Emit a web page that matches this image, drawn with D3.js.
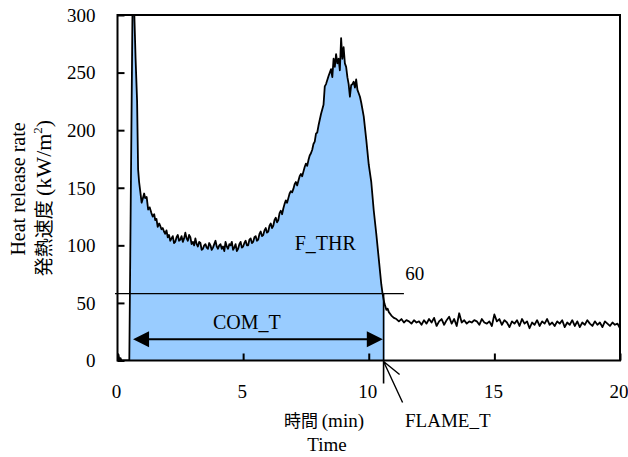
<!DOCTYPE html>
<html><head><meta charset="utf-8">
<script src="https://cdn.jsdelivr.net/npm/d3@7/dist/d3.min.js"></script>
<style>body{margin:0;background:#fff}</style>
</head><body><svg id="c" width="628" height="457"></svg>
<script>
// time (min)
const times = [
  0, 0.04, 0.08, 0.12, 0.16, 0.2, 0.3, 0.4, 0.47, 0.6,
  0.66, 0.72, 0.78, 0.82, 0.86, 0.9, 0.96, 1.0, 1.06, 1.1,
  1.16, 1.22, 1.28, 1.35, 1.4, 1.46, 1.5, 1.55, 1.6, 1.66,
  1.7, 1.75, 1.8, 1.85, 1.9, 1.95, 2.0, 2.05, 2.1, 2.15,
  2.2, 2.25, 2.3, 2.35, 2.4, 2.45, 2.5, 2.55, 2.6, 2.65,
  2.7, 2.75, 2.8, 2.85, 2.9, 2.95, 3.0, 3.05, 3.1, 3.15,
  3.2, 3.25, 3.3, 3.35, 3.4, 3.45, 3.5, 3.55, 3.6, 3.65,
  3.7, 3.75, 3.8, 3.85, 3.9, 3.95, 4.0, 4.05, 4.1, 4.15,
  4.2, 4.25, 4.3, 4.35, 4.4, 4.45, 4.5, 4.55, 4.6, 4.65,
  4.7, 4.75, 4.8, 4.85, 4.9, 4.95, 5.0, 5.05, 5.1, 5.15,
  5.2, 5.25, 5.3, 5.35, 5.4, 5.45, 5.5, 5.55, 5.6, 5.65,
  5.7, 5.75, 5.8, 5.85, 5.9, 5.95, 6.0, 6.05, 6.1, 6.15,
  6.2, 6.25, 6.3, 6.35, 6.4, 6.45, 6.5, 6.55, 6.6, 6.65,
  6.7, 6.75, 6.8, 6.85, 6.9, 6.95, 7.0, 7.05, 7.1, 7.15,
  7.2, 7.25, 7.3, 7.35, 7.4, 7.45, 7.5, 7.55, 7.6, 7.65,
  7.7, 7.75, 7.8, 7.85, 7.9, 7.95, 8.0, 8.1, 8.2, 8.25,
  8.3, 8.4, 8.45, 8.5, 8.55, 8.6, 8.65, 8.7, 8.75, 8.8,
  8.85, 8.9, 8.95, 9.0, 9.05, 9.1, 9.15, 9.2, 9.25, 9.3,
  9.35, 9.4, 9.45, 9.5, 9.55, 9.6, 9.65, 9.7, 9.8, 9.9,
  10.0, 10.1, 10.2, 10.3, 10.4, 10.5, 10.55, 10.6, 10.63, 10.66,
  10.7, 10.75, 10.8, 10.9, 11.0, 11.1, 11.2, 11.3, 11.4, 11.5,
  11.6, 11.7, 11.8, 11.9, 12.0, 12.1, 12.2, 12.3, 12.4, 12.5,
  12.6, 12.7, 12.8, 12.9, 13.0, 13.1, 13.2, 13.3, 13.4, 13.5,
  13.6, 13.7, 13.8, 13.9, 14.0, 14.1, 14.2, 14.3, 14.4, 14.5,
  14.6, 14.7, 14.8, 14.9, 15.0, 15.1, 15.2, 15.3, 15.4, 15.5,
  15.6, 15.7, 15.8, 15.9, 16.0, 16.1, 16.2, 16.3, 16.4, 16.5,
  16.6, 16.7, 16.8, 16.9, 17.0, 17.1, 17.2, 17.3, 17.4, 17.5,
  17.6, 17.7, 17.8, 17.9, 18.0, 18.1, 18.2, 18.3, 18.4, 18.5,
  18.6, 18.7, 18.8, 18.9, 19.0, 19.1, 19.2, 19.3, 19.4, 19.5,
  19.6, 19.7, 19.8, 19.9, 20.0
];
// heat release rate (kW/m2)
const hrr = [
  0, 5, 0, 2, 0, 0, 0, 0, 0, 312,
  308, 262, 225, 166, 155, 148, 137, 140, 145, 141,
  142, 131, 133, 128, 125, 127, 122, 123, 116, 119,
  117, 114, 115, 112, 110, 113, 107, 109, 104, 106,
  108, 102, 103, 107, 109, 104, 105, 108, 103, 106,
  111, 106, 104, 109, 107, 101, 103, 100, 106, 101,
  99, 103, 102, 96, 97, 100, 101, 98, 97, 102,
  100, 96, 98, 101, 104, 99, 97, 100, 101, 97,
  99, 95, 103, 99, 97, 101, 100, 103, 96, 98,
  101, 95, 97, 101, 103, 98, 99, 102, 104, 100,
  100, 105, 106, 102, 103, 107, 108, 104, 105, 110,
  112, 108, 109, 113, 115, 111, 112, 117, 119, 115,
  117, 122, 124, 120, 122, 128, 130, 127, 132, 136,
  139, 137, 141, 145, 147, 146, 149, 153, 155, 152,
  156, 160, 162, 160, 164, 168, 171, 169, 174, 178,
  180, 183, 188, 190, 197, 198, 204, 214, 222, 238,
  240, 247, 250, 253, 246, 262, 255, 266, 258, 262,
  252, 280, 262, 272, 258, 255, 246, 240, 229, 239,
  240, 242, 237, 244, 235, 232, 229, 224, 212, 192,
  170, 155, 130, 110, 88, 66, 58, 52, 49, 47,
  44, 45, 42, 39, 37, 36, 34, 36, 33, 35,
  34, 32, 35, 33, 34, 31, 35, 32, 36, 33,
  37, 30, 34, 36, 31, 35, 38, 32, 36, 30,
  41, 33, 35, 32, 34, 33, 35, 34, 31, 36,
  33, 32, 34, 30, 40, 34, 36, 31, 35, 33,
  29, 34, 32, 35, 30, 36, 32, 34, 28, 33,
  31, 35, 30, 34, 32, 36, 31, 33, 30, 34,
  32, 35, 29, 33, 31, 35, 30, 34, 29, 33,
  31, 35, 32, 30, 34, 31, 33, 29, 34, 32,
  30, 33, 31, 32, 28
];
const xTicks = [0, 5, 10, 15, 20];
const yTicks = [0, 50, 100, 150, 200, 250, 300];
const ignitionT = 0.47;   // start of fill
const flameT = 10.63;     // FLAME_T
const thrLevel = 58;      // drawn level of threshold line
const thrLabel = "60";
const thrExtent = [-0.1, 11.4];
const comT = [0.62, 10.56];
const comTLevel = 18.4;

const serif = "Liberation Serif";
const cjk = "Noto Sans CJK JP";

const svg = d3.select("#c");
const x = d3.scaleLinear().domain([0, 20]).range([117.5, 620]);
const y = d3.scaleLinear().domain([0, 300]).range([360.5, 15]);

const data = times.map((t, i) => ({t, v: hrr[i]}));

svg.append("defs").append("clipPath").attr("id", "plot")
  .append("rect").attr("x", x(0)).attr("y", y(300))
  .attr("width", x(20) - x(0)).attr("height", y(0) - y(300));

const g = svg.append("g").attr("clip-path", "url(#plot)");
const fillData = data.filter(d => d.t >= ignitionT && d.t <= flameT);
g.append("path").datum(fillData)
  .attr("fill", "#99ccff")
  .attr("d", d3.area().x(d => x(d.t)).y0(y(0)).y1(d => y(d.v)));
g.append("path").datum(data)
  .attr("fill", "none").attr("stroke", "#000").attr("stroke-width", 1.8)
  .attr("stroke-linejoin", "round")
  .attr("d", d3.line().x(d => x(d.t)).y(d => y(d.v)));

// threshold line
svg.append("line")
  .attr("x1", x(thrExtent[0])).attr("x2", x(thrExtent[1]))
  .attr("y1", y(thrLevel)).attr("y2", y(thrLevel))
  .attr("stroke", "#000").attr("stroke-width", 1.3);
svg.append("text").attr("x", x(11.45)).attr("y", y(70))
  .attr("font-family", serif).attr("font-size", 19).text(thrLabel);

// FLAME_T vertical + arrow
const fx = x(flameT) - 1;
svg.append("line").attr("x1", fx).attr("x2", fx)
  .attr("y1", y(thrLevel)).attr("y2", y(0) + 23)
  .attr("stroke", "#000").attr("stroke-width", 1.6);
svg.append("path")
  .attr("d", `M${fx + 19},${y(0) + 42} L${fx},${y(0) + 1} L${fx + 16},${y(0) + 14}`)
  .attr("fill", "none").attr("stroke", "#000").attr("stroke-width", 1.4);

// COM_T arrow
const ay = y(comTLevel);
svg.append("line").attr("x1", x(comT[0]) + 10).attr("x2", x(comT[1]) - 10)
  .attr("y1", ay).attr("y2", ay).attr("stroke", "#000").attr("stroke-width", 2);
svg.append("path")
  .attr("d", `M${x(comT[0])},${ay} L${x(comT[0]) + 16},${ay - 8} L${x(comT[0]) + 16},${ay + 8}Z`)
  .attr("fill", "#000");
svg.append("path")
  .attr("d", `M${x(comT[1])},${ay} L${x(comT[1]) - 16},${ay - 8} L${x(comT[1]) - 16},${ay + 8}Z`)
  .attr("fill", "#000");
svg.append("text").attr("x", x(5.15)).attr("y", y(27.5)).attr("text-anchor", "middle")
  .attr("font-family", serif).attr("font-size", 20).text("COM_T");
svg.append("text").attr("x", x(7.05)).attr("y", y(96))
  .attr("font-family", serif).attr("font-size", 20).text("F_THR");

// frame
svg.append("rect").attr("x", x(0)).attr("y", y(300))
  .attr("width", x(20) - x(0)).attr("height", y(0) - y(300))
  .attr("fill", "none").attr("stroke", "#000").attr("stroke-width", 2);

// axes
const ya = svg.append("g").attr("transform", `translate(${x(0)},0)`)
  .call(d3.axisLeft(y).tickValues(yTicks).tickSizeInner(-7).tickSizeOuter(0).tickPadding(22));
ya.attr("font-family", serif).attr("font-size", 19);
ya.select(".domain").remove();
ya.selectAll("line").attr("stroke-width", 2);
ya.selectAll("text").attr("fill", "#000").attr("dy", "0.33em");

const xa = svg.append("g").attr("transform", `translate(0,${y(0)})`)
  .call(d3.axisBottom(x).tickValues(xTicks).tickSizeInner(-7).tickSizeOuter(0).tickPadding(24));
xa.attr("font-family", serif).attr("font-size", 19);
xa.select(".domain").remove();
xa.selectAll("line").attr("stroke-width", 2);
xa.selectAll("text").attr("fill", "#000").attr("dx", "-1.5");

// axis titles
svg.append("text").attr("x", 324).attr("y", 427).attr("text-anchor", "middle")
  .attr("font-family", serif).attr("font-size", 19)
  .call(t => { t.append("tspan").attr("font-family", cjk).attr("font-size", 17).text("時間 ");
               t.append("tspan").text("(min)"); });
svg.append("text").attr("x", 327).attr("y", 451).attr("text-anchor", "middle")
  .attr("font-family", serif).attr("font-size", 19).text("Time");
svg.append("text").attr("x", 405).attr("y", 427)
  .attr("font-family", serif).attr("font-size", 19).text("FLAME_T");

svg.append("text").attr("transform", "translate(25,189) rotate(-90)").attr("text-anchor", "middle")
  .attr("font-family", serif).attr("font-size", 20).text("Heat release rate");
svg.append("text").attr("transform", "translate(51,198) rotate(-90)").attr("text-anchor", "middle")
  .attr("font-family", serif).attr("font-size", 22)
  .call(t => {
    t.append("tspan").attr("font-family", cjk).attr("font-size", 19).text("発熱速度 ");
    t.append("tspan").text("(kW/m");
    t.append("tspan").attr("font-size", 13).attr("dy", -9).text("2");
    t.append("tspan").attr("dy", 9).text(")");
  });
</script></body></html>
